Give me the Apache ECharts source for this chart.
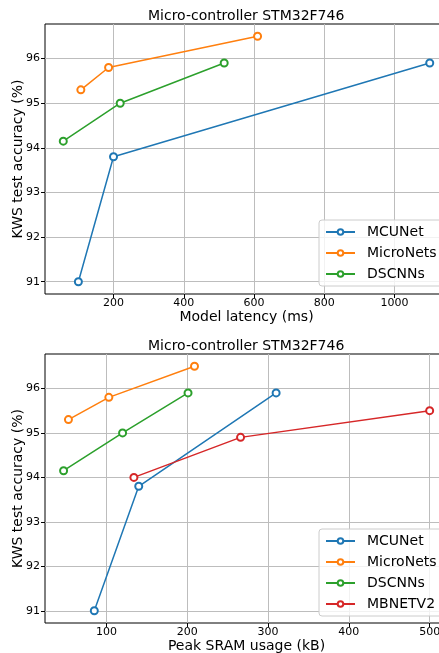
<!DOCTYPE html>
<html>
<head>
<meta charset="utf-8">
<script src="https://cdn.jsdelivr.net/npm/echarts@6/dist/echarts.min.js"></script>
<style>
html,body{margin:0;padding:0;background:#fff;}
#c{width:439px;height:653px;}
</style>
</head>
<body>
<div id="c"></div>
<script>
// ---- data ----
const seriesNamesTop = ['MCUNet', 'MicroNets', 'DSCNNs'];
const seriesNamesBottom = ['MCUNet', 'MicroNets', 'DSCNNs', 'MBNETV2'];
const accMCUNet = [91.0, 93.8, 95.9];
const accMicroNets = [95.3, 95.8, 96.5];
const accDSCNNs = [94.15, 95.0, 95.9];
const accMBNETV2 = [94.0, 94.9, 95.5];
const latMCUNet = [100, 200, 1100];
const latMicroNets = [107, 186, 610];
const latDSCNNs = [57, 219, 515];
const sramMCUNet = [85, 140, 310];
const sramMicroNets = [53, 103, 209];
const sramDSCNNs = [47, 120, 201];
const sramMBNETV2 = [134, 266, 500];
const latencyTicks = [200, 400, 600, 800, 1000];
const sramTicks = [100, 200, 300, 400, 500];
const accTicks = [91, 92, 93, 94, 95, 96];

const colors = {MCUNet:'#1f77b4', MicroNets:'#ff7f0e', DSCNNs:'#2ca02c', MBNETV2:'#d62728'};
const FONT = 'DejaVu Sans';

function pairs(xs, ys){ return xs.map((x,i)=>[x, ys[i]]); }

function mkSeries(name, xs, ys, idx){
  return {
    name: name, type: 'line', xAxisIndex: idx, yAxisIndex: idx,
    data: pairs(xs, ys),
    symbol: 'emptyCircle', symbolSize: 7,
    color: colors[name],
    lineStyle: {width: 1.5, color: colors[name]},
    itemStyle: {color: colors[name], borderColor: colors[name], borderWidth: 1.5},
    emphasis: {disabled: true},
    animation: false
  };
}

function xAxisCfg(idx, min, max, ticks, name){
  return {
    type: 'value', gridIndex: idx, min: min, max: max,
    name: name, nameLocation: 'middle', nameGap: 16, nameMoveOverlap: false,
    nameTextStyle: {fontFamily: FONT, fontSize: 14, color: '#000'},
    axisLine: {show: false},
    axisTick: {show: true, inside: false, length: 4, customValues: ticks, lineStyle: {color: '#000', width: 1}},
    axisLabel: {customValues: ticks, formatter: v => String(v), fontFamily: FONT, fontSize: 11, color: '#000', margin: 4},
    splitLine: {show: true, lineStyle: {color: '#bdbdbd', width: 1}}
  };
}
function yAxisCfg(idx){
  return {
    type: 'value', gridIndex: idx, min: 90.725, max: 96.775,
    name: 'KWS test accuracy (%)', nameLocation: 'middle', nameGap: 20, nameMoveOverlap: false,
    nameTextStyle: {fontFamily: FONT, fontSize: 14, color: '#000'},
    axisLine: {show: false},
    axisTick: {show: true, inside: false, length: 4, customValues: accTicks, lineStyle: {color: '#000', width: 1}},
    axisLabel: {customValues: accTicks, formatter: v => String(v), fontFamily: FONT, fontSize: 11, color: '#000', margin: 5},
    splitLine: {show: true, lineStyle: {color: '#bdbdbd', width: 1}}
  };
}
function legendCfg(names, top){
  return {
    data: names, orient: 'vertical', left: 319, top: top,
    padding: [5, 6, 5, 6], itemGap: 7, itemWidth: 29, itemHeight: 7,
    backgroundColor: 'rgba(255,255,255,0.8)', borderColor: '#cccccc', borderWidth: 1, borderRadius: 3,
    textStyle: {fontFamily: FONT, fontSize: 14, color: '#000', padding: [0, 0, 0, 7]},
    selectedMode: false
  };
}

const chart = echarts.init(document.getElementById('c'), null, {renderer: 'canvas'});
chart.setOption({
  animation: false,
  backgroundColor: '#fff',
  title: [
    {text: 'Micro-controller STM32F746', left: 148, top: 9.5, padding: 0,
     textStyle: {fontFamily: FONT, fontSize: 14, fontWeight: 'normal', color: '#000'}},
    {text: 'Micro-controller STM32F746', left: 148, top: 339.5, padding: 0,
     textStyle: {fontFamily: FONT, fontSize: 14, fontWeight: 'normal', color: '#000'}}
  ],
  grid: [
    {left: 45, top: 24, right: -9, height: 270, containLabel: false, outerBoundsMode: 'none', show: true, borderColor: '#000', borderWidth: 1, backgroundColor: 'transparent'},
    {left: 45, top: 354, right: -9, height: 269, containLabel: false, outerBoundsMode: 'none', show: true, borderColor: '#000', borderWidth: 1, backgroundColor: 'transparent'}
  ],
  xAxis: [
    xAxisCfg(0, 5, 1152, latencyTicks, 'Model latency (ms)'),
    xAxisCfg(1, 24, 522.7, sramTicks, 'Peak SRAM usage (kB)')
  ],
  yAxis: [yAxisCfg(0), yAxisCfg(1)],
  legend: [legendCfg(seriesNamesTop, 220), legendCfg(seriesNamesBottom, 529)],
  series: [
    mkSeries('MCUNet', latMCUNet, accMCUNet, 0),
    mkSeries('MicroNets', latMicroNets, accMicroNets, 0),
    mkSeries('DSCNNs', latDSCNNs, accDSCNNs, 0),
    mkSeries('MCUNet', sramMCUNet, accMCUNet, 1),
    mkSeries('MicroNets', sramMicroNets, accMicroNets, 1),
    mkSeries('DSCNNs', sramDSCNNs, accDSCNNs, 1),
    mkSeries('MBNETV2', sramMBNETV2, accMBNETV2, 1)
  ]
});
</script>
</body>
</html>
